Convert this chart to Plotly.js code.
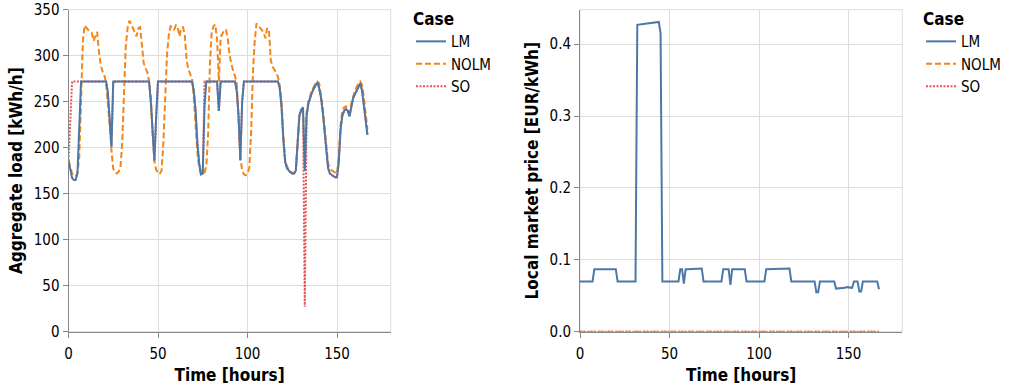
<!DOCTYPE html>
<html><head><meta charset="utf-8">
<script src="https://cdn.plot.ly/plotly-3.0.1.min.js"></script>
<style>html,body{margin:0;padding:0;background:#fff}#chart{width:1009px;height:390px}</style>
</head><body><div id="chart"></div>
<script>
const hours = [0,1,2,3,4,5,6,7,8,9,10,11,12,13,14,15,16,17,18,19,20,21,22,23,24,25,26,27,28,29,30,31,32,33,34,35,36,37,38,39,40,41,42,43,44,45,46,47,48,49,50,51,52,53,54,55,56,57,58,59,60,61,62,63,64,65,66,67,68,69,70,71,72,73,74,75,76,77,78,79,80,81,82,83,84,85,86,87,88,89,90,91,92,93,94,95,96,97,98,99,100,101,102,103,104,105,106,107,108,109,110,111,112,113,114,115,116,117,118,119,120,121,122,123,124,125,126,127,128,129,130,131,132,133,134,135,136,137,138,139,140,141,142,143,144,145,146,147,148,149,150,151,152,153,154,155,156,157,158,159,160,161,162,163,164,165,166,167];

const caseNames = ['LM', 'NOLM', 'SO'];

const loadLM = [186,175,167,165,165,172,220,272,272,272,
272,272,272,272,272,272,272,272,272,272,
272,272,260,235,201,272,272,272,272,272,
272,272,272,272,272,272,272,272,272,272,
272,272,272,272,272,272,250,220,186,235,
272,272,272,272,272,272,272,272,272,272,
272,272,272,272,272,272,272,272,272,272,
262,240,205,183,171,172,245,272,272,272,
272,272,272,272,240,272,272,272,272,272,
272,272,272,272,262,235,186,250,272,272,
272,272,272,272,272,272,272,272,272,272,
272,272,272,272,272,272,272,272,265,245,
210,185,178,175,173,172,172,175,205,235,
241,244,175,234,248,255,260,264,268,271,
265,255,240,220,195,178,172,170,169,168,
168,185,220,235,240,242,240,234,245,254,
258,262,266,270,262,248,230,214];

const loadNOLM = [186,178,172,169,169,172,190,250,315,333,
330,328,326,325,316,322,326,305,290,283,
279,270,250,225,197,177,173,172,174,178,
205,260,310,330,338,334,330,326,321,330,
331,312,292,287,282,273,255,215,185,176,
172,172,175,205,260,300,322,332,331,328,
333,331,321,330,331,322,295,285,280,275,
255,220,195,178,172,171,173,180,215,290,
325,332,334,318,272,320,324,328,328,318,
300,290,283,278,270,230,190,175,171,170,
172,178,215,280,315,335,333,331,328,325,
319,330,328,295,288,285,280,277,268,250,
213,188,180,176,174,173,172,176,205,235,
241,244,176,238,250,258,263,266,270,272,
270,258,244,224,200,183,177,175,174,173,
172,190,225,240,244,245,242,238,248,256,
262,266,270,272,268,255,235,220];

const loadSO = [186,230,272,272,272,272,272,272,272,272,
272,272,272,272,272,272,272,272,272,272,
272,272,260,235,201,272,272,272,272,272,
272,272,272,272,272,272,272,272,272,272,
272,272,272,272,272,272,250,220,186,235,
272,272,272,272,272,272,272,272,272,272,
272,272,272,272,272,272,272,272,272,272,
262,240,205,183,171,172,272,272,272,272,
272,272,272,272,240,272,272,272,272,272,
272,272,272,272,262,235,186,250,272,272,
272,272,272,272,272,272,272,272,272,272,
272,272,272,272,272,272,272,272,265,245,
210,185,178,175,173,172,172,175,205,235,
241,244,27,234,248,255,260,264,268,271,
265,255,240,220,195,178,172,170,169,168,
168,185,220,235,240,242,240,234,245,254,
258,262,266,270,262,248,230,214];

const priceLM = [0.07,0.07,0.07,0.07,0.07,0.07,0.07,0.07,0.087,0.087,
0.087,0.087,0.087,0.087,0.087,0.087,0.087,0.087,0.087,0.087,
0.087,0.07,0.07,0.07,0.07,0.07,0.07,0.07,0.07,0.07,
0.07,0.07,0.427,0.4273,0.4277,0.428,0.4283,0.4287,0.429,0.4293,
0.4297,0.43,0.4303,0.4307,0.431,0.415,0.07,0.07,0.07,0.07,
0.07,0.07,0.07,0.07,0.07,0.07,0.087,0.087,0.067,0.087,
0.087,0.087,0.087,0.087,0.087,0.087,0.087,0.088,0.088,0.07,
0.07,0.07,0.07,0.07,0.07,0.07,0.07,0.07,0.07,0.07,
0.087,0.087,0.087,0.087,0.065,0.087,0.087,0.087,0.087,0.087,
0.087,0.087,0.087,0.07,0.07,0.07,0.07,0.07,0.07,0.07,
0.07,0.07,0.07,0.07,0.087,0.087,0.087,0.087,0.087,0.087,
0.087,0.088,0.088,0.088,0.088,0.088,0.088,0.088,0.07,0.07,
0.07,0.07,0.07,0.07,0.07,0.07,0.07,0.07,0.07,0.07,
0.07,0.07,0.055,0.055,0.07,0.07,0.07,0.07,0.07,0.07,
0.07,0.07,0.07,0.06,0.06,0.06,0.061,0.061,0.061,0.062,
0.062,0.061,0.061,0.07,0.07,0.07,0.056,0.056,0.07,0.07,
0.07,0.07,0.07,0.07,0.07,0.07,0.07,0.059];

const priceNOLM = [0,0,0,0,0,0,0,0,0,0, 0,0,0,0,0,0,0,0,0,0, 0,0,0,0,0,0,0,0,0,0, 0,0,0,0,0,0,0,0,0,0,
0,0,0,0,0,0,0,0,0,0, 0,0,0,0,0,0,0,0,0,0, 0,0,0,0,0,0,0,0,0,0, 0,0,0,0,0,0,0,0,0,0,
0,0,0,0,0,0,0,0,0,0, 0,0,0,0,0,0,0,0,0,0, 0,0,0,0,0,0,0,0,0,0, 0,0,0,0,0,0,0,0,0,0,
0,0,0,0,0,0,0,0,0,0, 0,0,0,0,0,0,0,0,0,0, 0,0,0,0,0,0,0,0,0,0, 0,0,0,0,0,0,0,0,0,0,
0,0,0,0,0,0,0,0];

const priceSO = [0,0,0,0,0,0,0,0,0,0, 0,0,0,0,0,0,0,0,0,0, 0,0,0,0,0,0,0,0,0,0, 0,0,0,0,0,0,0,0,0,0,
0,0,0,0,0,0,0,0,0,0, 0,0,0,0,0,0,0,0,0,0, 0,0,0,0,0,0,0,0,0,0, 0,0,0,0,0,0,0,0,0,0,
0,0,0,0,0,0,0,0,0,0, 0,0,0,0,0,0,0,0,0,0, 0,0,0,0,0,0,0,0,0,0, 0,0,0,0,0,0,0,0,0,0,
0,0,0,0,0,0,0,0,0,0, 0,0,0,0,0,0,0,0,0,0, 0,0,0,0,0,0,0,0,0,0, 0,0,0,0,0,0,0,0,0,0,
0,0,0,0,0,0,0,0];

const xTitle = 'Time [hours]';
const yTitleLoad = 'Aggregate load [kWh/h]';
const yTitlePrice = 'Local market price [EUR/kWh]';
const legendTitle = 'Case';

const FONT = '"DejaVu Sans Condensed", "DejaVu Sans", sans-serif';
const COLORS = {LM: '#4c78a8', NOLM: '#f58518', SO: '#e45756'};
const DASH = {LM: 'solid', NOLM: '6px,3px', SO: '2px,1.5px'};
const RANK = {LM: 1, NOLM: 2, SO: 3};

function mk(name, y, xa, ya, leg) {
  return {
    type: 'scatter', mode: 'lines', name: name, x: hours, y: y,
    xaxis: xa, yaxis: ya, legend: leg, legendrank: RANK[name],
    line: {color: COLORS[name], width: 2, dash: DASH[name]},
    hoverinfo: 'skip'
  };
}

const data = [
  mk('SO', loadSO, 'x', 'y', 'legend'),
  mk('NOLM', loadNOLM, 'x', 'y', 'legend'),
  mk('LM', loadLM, 'x', 'y', 'legend'),
  mk('SO', priceSO, 'x2', 'y2', 'legend2'),
  mk('NOLM', priceNOLM, 'x2', 'y2', 'legend2'),
  mk('LM', priceLM, 'x2', 'y2', 'legend2')
];

function xax(domain, anchor) {
  return {
    domain: domain, anchor: anchor, range: [0, 180], tick0: 0, dtick: 50,
    showgrid: true, gridcolor: '#ddd', gridwidth: 1, zeroline: false,
    showline: true, linecolor: '#888', linewidth: 1,
    ticks: 'outside', ticklen: 5, tickcolor: '#888', tickwidth: 1,
    ticklabelstandoff: 3,
    tickfont: {size: 15, color: '#000'},
    title: {text: xTitle, font: {size: 17, weight: 'bold', color: '#000'}, standoff: 7},
    automargin: false, fixedrange: true
  };
}
function yax(domain, anchor, range, dtick, fmt, title) {
  return {
    domain: domain, anchor: anchor, range: range, tick0: 0, dtick: dtick, tickformat: fmt,
    showgrid: true, gridcolor: '#ddd', gridwidth: 1, zeroline: false,
    showline: true, linecolor: '#888', linewidth: 1,
    ticks: 'outside', ticklen: 5, tickcolor: '#888', tickwidth: 1,
    tickfont: {size: 15, color: '#000'},
    title: {text: title, font: {size: 17, weight: 'bold', color: '#000'}, standoff: 6},
    automargin: false, fixedrange: true
  };
}

const yDom = [(390 - 331.7) / 390, (390 - 9.7) / 390];
const legendCommon = {
  xanchor: 'left', y: 1 - 3 / 390, yanchor: 'top',
  title: {text: legendTitle, font: {size: 17, weight: 'bold', color: '#000'}},
  font: {size: 15, color: '#000'}, bgcolor: 'rgba(0,0,0,0)', borderwidth: 0,
  itemclick: false, itemdoubleclick: false
};

const layout = {
  width: 1009, height: 390,
  margin: {l: 0, r: 0, t: 0, b: 0},
  paper_bgcolor: '#fff', plot_bgcolor: '#fff',
  font: {family: FONT, size: 15, color: '#000'},
  showlegend: true,
  xaxis: xax([68.5 / 1009, 390.7 / 1009], 'y'),
  yaxis: yax(yDom, 'x', [0, 350], 50, 'd', yTitleLoad),
  xaxis2: xax([580 / 1009, 902.3 / 1009], 'y2'),
  yaxis2: yax(yDom, 'x2', [0, 0.448], 0.1, '.1f', yTitlePrice),
  legend: Object.assign({x: 411 / 1009}, legendCommon),
  legend2: Object.assign({x: 921 / 1009}, legendCommon),
  shapes: [
    {type: 'rect', xref: 'x domain', yref: 'y domain', x0: 0, x1: 1, y0: 0, y1: 1,
     line: {color: '#ddd', width: 1}, layer: 'below'},
    {type: 'rect', xref: 'x2 domain', yref: 'y2 domain', x0: 0, x1: 1, y0: 0, y1: 1,
     line: {color: '#ddd', width: 1}, layer: 'below'}
  ]
};

Plotly.newPlot('chart', data, layout, {staticPlot: true, displayModeBar: false});
</script>
</body></html>
